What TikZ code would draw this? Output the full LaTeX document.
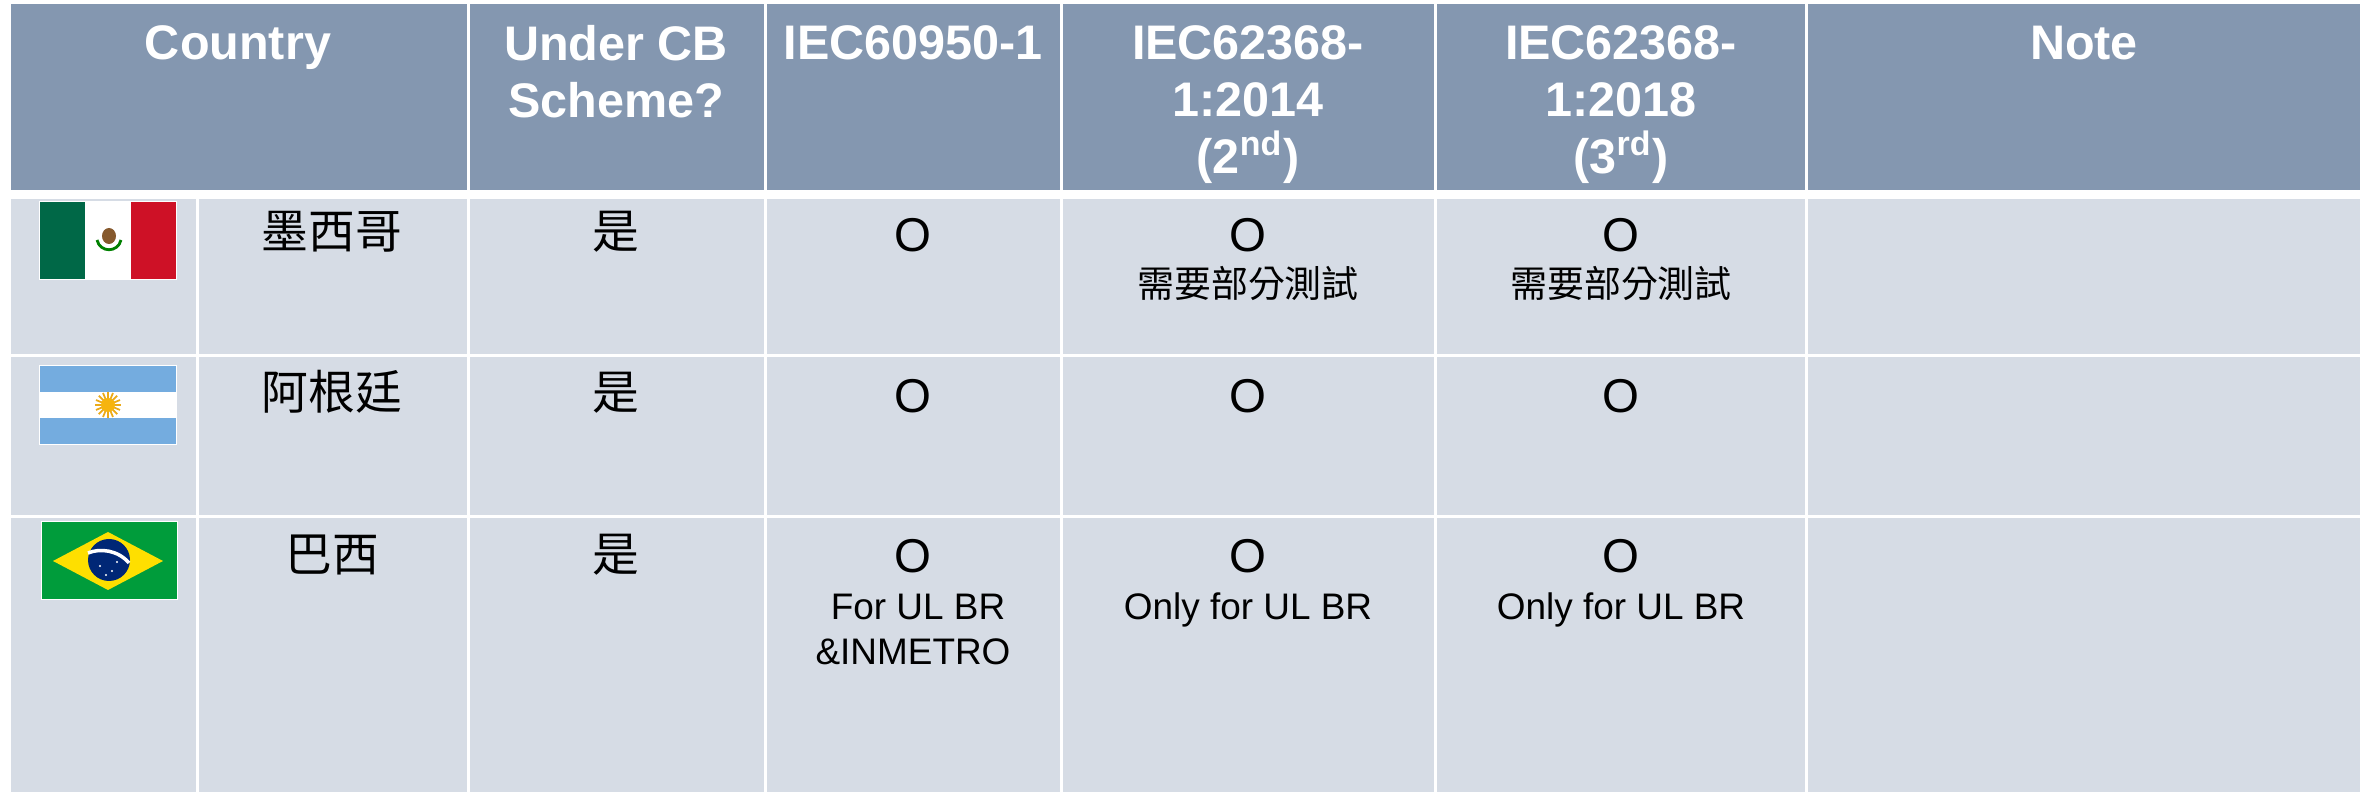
\documentclass[tikz,border=0pt]{standalone}
\usepackage{fontspec}
\setmainfont{Liberation Sans}
\newfontfamily\cjk{Noto Sans CJK TC}
\definecolor{hdblue}{RGB}{132,151,176}
\definecolor{bdgray}{RGB}{214,220,229}
\definecolor{mxgreen}{RGB}{0,104,71}
\definecolor{mxred}{RGB}{206,17,38}
\definecolor{arblue}{RGB}{116,172,223}
\definecolor{arsun}{RGB}{246,180,14}
\definecolor{brgreen}{RGB}{0,156,59}
\definecolor{bryellow}{RGB}{254,223,0}
\definecolor{brblue}{RGB}{0,39,118}
\tikzset{hd/.style={fill=hdblue}, bd/.style={fill=bdgray},
  htx/.style={text=white,font=\fontsize{13.8}{16.2}\selectfont\bfseries,align=center,anchor=north,inner sep=0pt},
  bigtx/.style={font=\fontsize{13.5}{16}\selectfont,anchor=base,inner sep=0pt},
  bigcj/.style={font=\fontsize{13.3}{16}\selectfont\cjk,anchor=base,inner sep=0pt},
  smltx/.style={font=\fontsize{10.5}{12.8}\selectfont,anchor=base,inner sep=0pt},
  smlcj/.style={font=\fontsize{10.5}{12.8}\selectfont\cjk,anchor=base,inner sep=0pt}}

\begin{document}
\begin{tikzpicture}[x=0.01cm,y=-0.01cm]
\useasboundingbox[fill=white] (0,0) rectangle (2372,792);
\foreach \l/\r in {9/468,468/765,765/1061,1061/1435.5,1435.5/1806.5,1806.5/2361}
  \fill[hd] (\l+1.5,4) rectangle (\r-1.5,190);
\foreach \t/\b in {198/355.5,355.5/516.5,516.5/795}
  \foreach \l/\r in {9/197.5,197.5/468,468/765,765/1061,1061/1435.5,1435.5/1806.5,1806.5/2361}
    \fill[bd] (\l+1.5,\t+1.5) rectangle (\r-1.5,\b-1.5);
\node[htx] (hco) at (238,25) {Country};
\node[htx] (hcb) at (616,25) {Under CB\\Scheme?};
\node[htx] (h609) at (913,25) {IEC60950-1};
\node[htx] (h614) at (1248,25) {IEC62368-\\1:2014\\(2\textsuperscript{nd})};
\node[htx] (h618) at (1621,25) {IEC62368-\\1:2018\\(3\textsuperscript{rd})};
\node[htx] (hnt) at (2084,25) {Note};
\fill[white] (39,201) rectangle (177,280);
\fill[mxgreen] (40,202) rectangle (85,279);
\fill[mxred] (131,202) rectangle (176,279);
\fill[brown!70!black] (109,236) ellipse (7 and 8);
\draw[green!50!black, line width=0.8pt] (97,240) .. controls (100,253) and (118,253) .. (121,240);
\fill[white] (39,365) rectangle (177,445);
\fill[arblue] (40,366) rectangle (176,392);
\fill[arblue] (40,418) rectangle (176,444);
\foreach \a in {0,22.5,...,337.5} \draw[arsun!80!brown, line width=0.5pt] (108,405) -- ++(\a:13);
\fill[arsun] (108,405) circle (7);
\fill[white] (41,521) rectangle (178,600);
\fill[brgreen] (42,522) rectangle (177,599);
\fill[bryellow] (53,561) -- (108,532) -- (163,561) -- (108,590) -- cycle;
\fill[brblue] (109,560) circle (21);
\draw[white, line width=1pt] (88,553) .. controls (100,548) and (118,550) .. (129,563);
\foreach \p in {(100,566),(112,571),(117,562),(106,575)} \fill[white] \p circle (1.2);
\node[bigcj] (mx) at (332,249) {墨西哥};
\node[bigcj] (ar) at (332,410) {阿根廷};
\node[bigcj] (br) at (332,572) {巴西};
\foreach \y/\n in {249/1,410/2,572/3} \node[bigcj] (cb\n) at (616,\y) {是};
\foreach \y/\n in {252/1,413/2,573/3}
  \foreach \x/\c in {913/a,1248/b,1621/c} \node[bigtx] (o\n\c) at (\x,\y) {O};
\node[smlcj] (t1b) at (1248,298) {需要部分測試};
\node[smlcj] (t1c) at (1621,298) {需要部分測試};
\node[smltx] (t3a) at (918,620) {For UL BR};
\node[smltx] (t3d) at (913,665) {\&INMETRO};
\node[smltx] (t3b) at (1248,620) {Only for UL BR};
\node[smltx] (t3c) at (1621,620) {Only for UL BR};
\end{tikzpicture}
\end{document}
